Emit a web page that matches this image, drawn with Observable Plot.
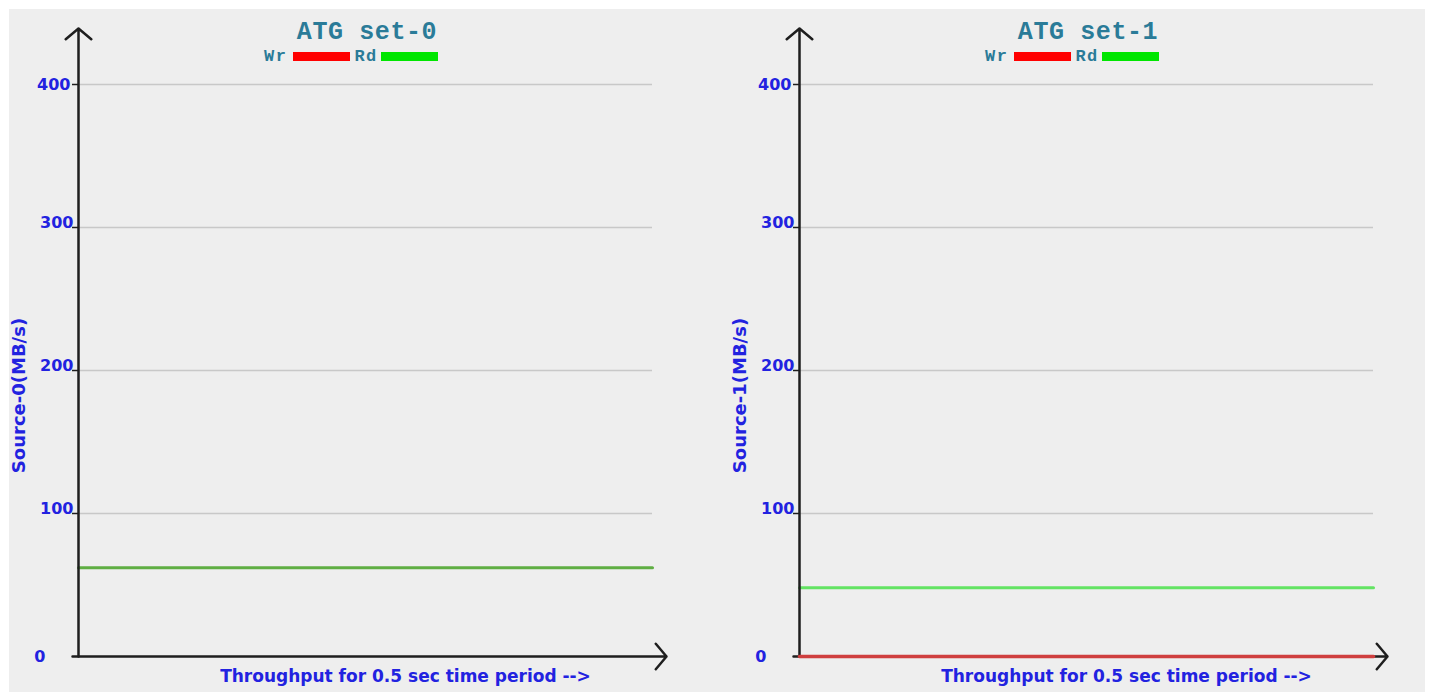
<!DOCTYPE html>
<html>
<head>
<meta charset="utf-8">
<script src="https://cdn.jsdelivr.net/npm/d3@7"></script>
<script src="https://cdn.jsdelivr.net/npm/@observablehq/plot@0.6"></script>
<style>
  html, body { margin: 0; padding: 0; background: #ffffff; width: 1429px; height: 692px; overflow: hidden; }
  #bg { position: absolute; left: 9px; top: 9px; width: 1416px; height: 683px; background: #eeeeee; }
  .panel { position: absolute; top: 0; width: 714px; height: 692px; }
  .panel svg { position: absolute; left: 0; top: 0; }
  .title { position: absolute; left: 80px; width: 574px; top: 20px; text-align: center;
           font: bold 25px "Liberation Mono", "DejaVu Sans Mono", monospace; color: #2a7b98; line-height: 25px; letter-spacing: 0.6px; }
  .legend { position: absolute; left: 264px; top: 48px; display: flex; align-items: center;
            font: bold 17px "Liberation Mono", "DejaVu Sans Mono", monospace; color: #2a7b98; line-height: 17px; letter-spacing: 1.5px; }
  .legend .sw { display: inline-block; width: 57px; height: 9px; margin: 0 4px 0 6px; }
  .legend .sw.last { margin: 0 0 0 3px; }
</style>
</head>
<body>
<div id="bg"></div>
<div id="root"></div>
<script>
// ---- data ----
const panelTitles = ["ATG set-0", "ATG set-1"];
const yLabels = ["Source-0(MB/s)", "Source-1(MB/s)"];
const xLabel = "Throughput for 0.5 sec time period -->";
const yTicks = [0, 100, 200, 300, 400];
const seriesNames = ["Wr", "Rd"];
const seriesColors = ["#ff0000", "#00e600"];
const sampleT = [0, 1];
const wrSet0 = [];          // no write traffic drawn
const rdSet0 = [62, 62];
const wrSet1 = [0, 0];
const rdSet1 = [48, 48];

const panels = [
  {title: panelTitles[0], ylab: yLabels[0], wr: wrSet0, rd: rdSet0, rdStroke: "#5fae43", left: 0},
  {title: panelTitles[1], ylab: yLabels[1], wr: wrSet1, rd: rdSet1, rdStroke: "#63e363", left: 721}
];

const toRows = (vals) => vals.map((v, i) => ({t: sampleT[i], v}));
const blue = "#2222e0";
const axisColor = "#1e1e1e";
const sans = "'DejaVu Sans', Verdana, sans-serif";

const root = document.getElementById("root");
for (const p of panels) {
  const div = document.createElement("div");
  div.className = "panel";
  div.style.left = p.left + "px";

  const chart = Plot.plot({
    width: 714,
    height: 692,
    marginLeft: 78,
    marginRight: 62,
    marginTop: 84,
    marginBottom: 36,
    x: {domain: [0, 1], axis: null},
    y: {domain: [0, 400], axis: null},
    style: {background: "none", overflow: "visible"},
    marks: [
      Plot.ruleY(yTicks.filter(d => d > 0), {stroke: "#c8c8c8", strokeWidth: 1.5}),
      Plot.axisY({ticks: yTicks.filter(d => d > 0), tickSize: 6, tickFormat: () => "", label: null, stroke: axisColor, strokeWidth: 1.5}),
      Plot.text(yTicks.filter(d => d === 400), {y: d => d, text: d => String(d), frameAnchor: "left", dx: -8, textAnchor: "end",
        fill: blue, fontSize: 16, fontWeight: "bold", fontFamily: sans}),
      Plot.text(yTicks.filter(d => d > 0 && d < 400), {y: d => d, text: d => String(d), frameAnchor: "left", dx: -5, dy: -5, textAnchor: "end",
        fill: blue, fontSize: 16, fontWeight: "bold", fontFamily: sans}),
      Plot.text(yTicks.filter(d => d === 0), {y: d => d, text: d => String(d), frameAnchor: "left", dx: -33, textAnchor: "end",
        fill: blue, fontSize: 16, fontWeight: "bold", fontFamily: sans}),
      Plot.text([p.ylab], {text: d => d, frameAnchor: "left", textAnchor: "middle", rotate: -90, dx: -59, dy: 25,
        fill: blue, fontSize: 18, fontWeight: "bold", fontFamily: sans}),
      Plot.text([xLabel], {text: d => d, frameAnchor: "bottom", dx: 40, dy: 25,
        fill: blue, fontSize: 17, fontWeight: "bold", fontFamily: sans}),
      Plot.line(toRows(p.rd), {x: "t", y: "v", stroke: p.rdStroke, strokeWidth: 3}),
      Plot.arrow([null], {x1: 0, y1: 0, x2: 0, y2: 400, insetEnd: -56, stroke: axisColor, strokeWidth: 2.5, headLength: 10, headAngle: 100}),
      Plot.arrow([null], {x1: 0, y1: 0, x2: 1, y2: 0, insetStart: -6, insetEnd: -14, stroke: axisColor, strokeWidth: 2.5, headLength: 10, headAngle: 100}),
      Plot.line(toRows(p.wr), {x: "t", y: "v", stroke: "#cf3f3f", strokeWidth: 3.5})
    ]
  });
  div.appendChild(chart);

  const title = document.createElement("div");
  title.className = "title";
  title.textContent = p.title;
  div.appendChild(title);

  const legend = document.createElement("div");
  legend.className = "legend";
  seriesNames.forEach((name, i) => {
    const lab = document.createElement("span");
    lab.textContent = name;
    const sw = document.createElement("span");
    sw.className = i === seriesNames.length - 1 ? "sw last" : "sw";
    sw.style.background = seriesColors[i];
    legend.appendChild(lab);
    legend.appendChild(sw);
  });
  div.appendChild(legend);

  root.appendChild(div);
}
</script>
</body>
</html>
